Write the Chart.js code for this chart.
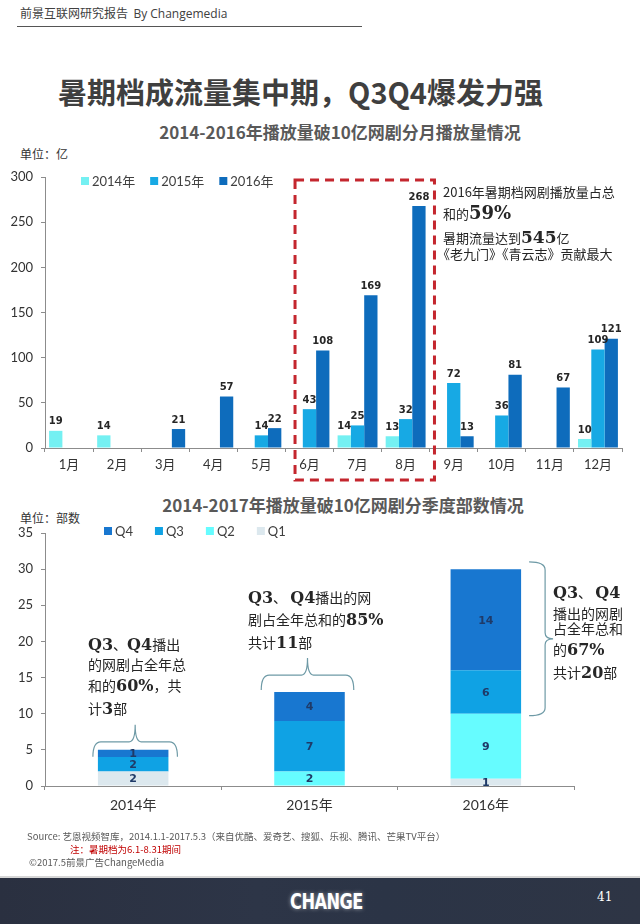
<!DOCTYPE html>
<html><head><meta charset="utf-8">
<script src="https://cdn.jsdelivr.net/npm/chart.js@4.4.1/dist/chart.umd.min.js"></script>
<style>
html,body{margin:0;padding:0;background:#fff;}
#page{position:relative;width:640px;height:924px;overflow:hidden;font-family:"Noto Sans CJK SC",sans-serif;color:#262626;}
.a{position:absolute;white-space:nowrap;line-height:1;}
.s{font-family:"DejaVu Serif",serif;font-weight:bold;}
.t13{font-size:13px;}
.t14{font-size:14px;}
canvas{position:absolute;left:0;}
</style></head>
<body><div id="page">
<div class="a" style="left:20px;top:7px;font-size:12px;color:#404040;">前景互联网研究报告 &nbsp;<span style="font-family:'Open Sans',sans-serif;">By Changemedia</span></div>
<div class="a" style="left:17px;top:26px;width:345px;height:0;border-top:1px solid #555;"></div>
<div class="a" style="left:0;width:601px;text-align:center;top:77px;font-size:29px;font-weight:bold;color:#3f3f3f;">暑期档成流量集中期，Q3Q4爆发力强</div>
<div class="a" style="left:0;width:680px;text-align:center;top:123px;font-size:17px;font-weight:bold;color:#595959;">2014-2016年播放量破10亿网剧分月播放量情况</div>
<div class="a" style="left:20px;top:148px;font-size:12px;color:#333;">单位：亿</div>

<canvas id="c1" width="640" height="340" style="top:150px;"></canvas>

<div class="a t13" style="left:443px;top:185px;">2016年暑期档网剧播放量占总</div>
<div class="a t13" style="left:443px;top:204px;">和的<span class="s" style="font-size:18px;">59%</span></div>
<div class="a t13" style="left:443px;top:229px;">暑期流量达到<span class="s" style="font-size:17px;">545</span>亿</div>
<div class="a t13" style="left:437px;top:247px;">《老九门》《青云志》贡献最大</div>

<div class="a" style="left:0;width:686px;text-align:center;top:496px;font-size:17px;font-weight:bold;color:#595959;">2014-2017年播放量破10亿网剧分季度部数情况</div>
<div class="a" style="left:20px;top:512px;font-size:12px;color:#333;">单位：部数</div>

<canvas id="c2" width="640" height="320" style="top:510px;"></canvas>

<div class="a t14" style="left:88px;top:637px;"><span class="s" style="font-size:16px;">Q3</span>、<span class="s" style="font-size:16px;">Q4</span>播出</div>
<div class="a t14" style="left:88px;top:657px;">的网剧占全年总</div>
<div class="a t14" style="left:88px;top:678px;">和的<span class="s" style="font-size:16px;">60%</span>，共</div>
<div class="a t14" style="left:88px;top:701px;">计<span class="s" style="font-size:16px;">3</span>部</div>

<div class="a t14" style="left:248px;top:590px;"><span class="s" style="font-size:16px;">Q3</span>、 <span class="s" style="font-size:16px;">Q4</span>播出的网</div>
<div class="a t14" style="left:248px;top:612px;">剧占全年总和的<span class="s" style="font-size:16px;">85%</span></div>
<div class="a t14" style="left:248px;top:635px;">共计<span class="s" style="font-size:16px;">11</span>部</div>

<div class="a t14" style="left:553px;top:585px;"><span class="s" style="font-size:16px;">Q3</span>、 <span class="s" style="font-size:16px;">Q4</span></div>
<div class="a t14" style="left:553px;top:606px;">播出的网剧</div>
<div class="a t14" style="left:553px;top:621px;">占全年总和</div>
<div class="a t14" style="left:553px;top:642px;">的<span class="s" style="font-size:16px;">67%</span></div>
<div class="a t14" style="left:553px;top:665px;">共计<span class="s" style="font-size:16px;">20</span>部</div>

<div class="a" style="left:27px;top:832px;font-size:9.5px;color:#595959;">Source: 艺恩视频智库，2014.1.1-2017.5.3（来自优酷、爱奇艺、搜狐、乐视、腾讯、芒果TV平台）</div>
<div class="a" style="left:70px;top:845px;font-size:9.5px;color:#C00000;">注：暑期档为6.1-8.31期间</div>
<div class="a" style="left:29px;top:858px;font-size:9.5px;color:#595959;">©2017.5前景广告ChangeMedia</div>

<div class="a" style="left:0;top:876px;width:640px;height:2px;background:#d6d6d6;"></div>
<div class="a" style="left:0;top:878px;width:640px;height:46px;background:linear-gradient(90deg,#2a3040,#2d3547 40%,#2b3446 60%,#2e3545);"></div>
<div class="a" style="left:290px;top:893px;width:72px;text-align:center;font-family:'DejaVu Sans Condensed','DejaVu Sans',sans-serif;font-weight:bold;font-size:18px;color:#fff;letter-spacing:-0.5px;transform:scaleY(1.2);text-shadow:0 0 4px rgba(255,255,255,0.5);">CHANGE</div>
<div class="a" style="left:597px;top:891px;font-family:'DejaVu Serif',serif;font-size:12px;color:#fff;">41</div>
</div>
<script>
const months = ['1月','2月','3月','4月','5月','6月','7月','8月','9月','10月','11月','12月'];
const seriesNames = ['2014年','2015年','2016年'];
const play2014 = [19,14,null,null,null,null,14,13,null,null,null,10];
const play2015 = [null,null,null,null,14,43,25,32,72,36,null,109];
const play2016 = [null,null,21,57,22,108,169,268,13,81,67,121];
const yTicks1 = [0,50,100,150,200,250,300];

const years = ['2014年','2015年','2016年'];
const quarterNames = ['Q1','Q2','Q3','Q4'];
const q1 = [2,0,1];
const q2 = [0,2,9];
const q3 = [2,7,6];
const q4 = [1,4,14];
const yTicks2 = [0,5,10,15,20,25,30,35];

const FONT = 'Lato, "Noto Sans CJK SC", sans-serif';

function legendPlugin(x0, yc, gap, order){
  return {id:'lg', afterDraw(chart){
    const ctx=chart.ctx; ctx.save();
    ctx.font='13px '+FONT; ctx.textBaseline='middle';
    let x=x0;
    order.forEach(i=>{
      const ds=chart.data.datasets[i];
      ctx.fillStyle=ds.backgroundColor; ctx.fillRect(x,yc-4,8,8);
      x+=11; ctx.fillStyle='#404040'; ctx.fillText(ds.label,x,yc+0.5);
      x+=ctx.measureText(ds.label).width+gap;
    });
    ctx.restore();
  }};
}

const topLabels={id:'tl', afterDatasetsDraw(chart){
  const ctx=chart.ctx; ctx.save();
  ctx.font='bold 10px "DejaVu Sans", sans-serif'; ctx.fillStyle='#262626';
  ctx.textAlign='center'; ctx.textBaseline='bottom';
  chart.data.datasets.forEach((ds,i)=>{
    chart.getDatasetMeta(i).data.forEach((b,j)=>{
      const v=ds.data[j]; if(v==null) return;
      ctx.fillText(String(v), b.x, b.y-4);
    });
  });
  ctx.restore();
}};

const redBox={id:'rb', afterDraw(chart){
  const xs=chart.scales.x, ys=chart.scales.y, ctx=chart.ctx;
  const cw=xs.getPixelForValue(1)-xs.getPixelForValue(0);
  const l=xs.getPixelForValue(5)-0.3*cw, r=xs.getPixelForValue(7)+0.6*cw;
  const t=ys.getPixelForValue(300)+3, b=chart.chartArea.bottom+32;
  ctx.save(); ctx.strokeStyle='#C4262E'; ctx.lineWidth=3; ctx.setLineDash([9,6]);
  ctx.strokeRect(l,t,r-l,b-t); ctx.restore();
}};

new Chart(document.getElementById('c1'),{
  type:'bar',
  data:{labels:months, datasets:[
    {label:seriesNames[0], data:play2014, backgroundColor:'#74F0F2'},
    {label:seriesNames[1], data:play2015, backgroundColor:'#17A9E4'},
    {label:seriesNames[2], data:play2016, backgroundColor:'#0E6CBC'}
  ]},
  options:{
    responsive:false, animation:false, devicePixelRatio:1,
    datasets:{bar:{categoryPercentage:0.83, barPercentage:1.0}},
    layout:{padding:{top:27,right:18,left:0,bottom:0}},
    plugins:{legend:{display:false}, tooltip:{enabled:false}},
    scales:{
      x:{grid:{drawOnChartArea:false,tickLength:4,color:'#8c8c8c'},border:{color:'#8c8c8c'},
         ticks:{font:{size:13,family:FONT},color:'#333',padding:5},
         afterFit(s){s.height=42;}},
      y:{min:0,max:300,afterBuildTicks(s){s.ticks=yTicks1.map(v=>({value:v}));},
         grid:{drawOnChartArea:false,tickLength:4,color:'#8c8c8c'},border:{color:'#8c8c8c'},
         ticks:{font:{size:13,family:FONT},color:'#333',padding:8},
         afterFit(s){s.width=45;}}
    }
  },
  plugins:[topLabels, redBox, legendPlugin(81,31,15,[0,1,2])]
});

const segLabels={id:'sl', afterDatasetsDraw(chart){
  const ctx=chart.ctx; ctx.save();
  ctx.font='bold 11px "DejaVu Sans", sans-serif'; ctx.fillStyle='#1F3A68';
  ctx.textAlign='center'; ctx.textBaseline='middle';
  chart.data.datasets.forEach((ds,i)=>{
    chart.getDatasetMeta(i).data.forEach((b,j)=>{
      const v=ds.data[j]; if(!v) return;
      ctx.fillText(String(v), b.x, (b.y+b.base)/2+1);
    });
  });
  ctx.restore();
}};

function hBrace(ctx,x1,x2,y0,yb,yt){
  const xm=(x1+x2)/2;
  ctx.beginPath();
  ctx.moveTo(x1,y0);
  ctx.quadraticCurveTo(x1,yb,x1+8,yb);
  ctx.lineTo(xm-6,yb);
  ctx.quadraticCurveTo(xm,yb,xm,yt);
  ctx.quadraticCurveTo(xm,yb,xm+6,yb);
  ctx.lineTo(x2-8,yb);
  ctx.quadraticCurveTo(x2,yb,x2,y0);
  ctx.stroke();
}
function vBrace(ctx,x0,xb,xt,y1,y2){
  const ym=(y1+y2)/2;
  ctx.beginPath();
  ctx.moveTo(x0,y1);
  ctx.quadraticCurveTo(xb,y1,xb,y1+8);
  ctx.lineTo(xb,ym-6);
  ctx.quadraticCurveTo(xb,ym,xt,ym);
  ctx.quadraticCurveTo(xb,ym,xb,ym+6);
  ctx.lineTo(xb,y2-8);
  ctx.quadraticCurveTo(xb,y2,x0,y2);
  ctx.stroke();
}
const braces={id:'br', afterDraw(chart){
  const ctx=chart.ctx, top=chart.getDatasetMeta(3).data, ys=chart.scales.y;
  ctx.save(); ctx.strokeStyle='#6E9AA6'; ctx.lineWidth=1.2;
  let b=top[0], l=b.x-b.width/2, r=b.x+b.width/2;
  hBrace(ctx,l-5,r+9,b.y+7,b.y-8,b.y-25);
  b=top[1]; l=b.x-b.width/2; r=b.x+b.width/2;
  hBrace(ctx,l-13,r+9,b.y-2,b.y-17,b.y-34);
  b=top[2]; r=b.x+b.width/2;
  vBrace(ctx,r+8,r+24,r+32,ys.getPixelForValue(31)+0,ys.getPixelForValue(10)+2);
  ctx.restore();
}};

new Chart(document.getElementById('c2'),{
  type:'bar',
  data:{labels:years, datasets:[
    {label:quarterNames[0], data:q1, backgroundColor:'#DCE8EE'},
    {label:quarterNames[1], data:q2, backgroundColor:'#66FCFF'},
    {label:quarterNames[2], data:q3, backgroundColor:'#0FA2E4'},
    {label:quarterNames[3], data:q4, backgroundColor:'#1877D0'}
  ]},
  options:{
    responsive:false, animation:false, devicePixelRatio:1,
    datasets:{bar:{categoryPercentage:1.0, barPercentage:0.4}},
    layout:{padding:{top:23,right:66,left:0,bottom:0}},
    plugins:{legend:{display:false}, tooltip:{enabled:false}},
    scales:{
      x:{stacked:true,grid:{drawOnChartArea:false,tickLength:4,color:'#8c8c8c'},border:{color:'#8c8c8c'},
         ticks:{font:{size:14,family:FONT},color:'#333',padding:7},
         afterFit(s){s.height=44;}},
      y:{stacked:true,min:0,max:35,afterBuildTicks(s){s.ticks=yTicks2.map(v=>({value:v}));},
         grid:{drawOnChartArea:false,tickLength:4,color:'#8c8c8c'},border:{color:'#8c8c8c'},
         ticks:{font:{size:13,family:FONT},color:'#333',padding:8},
         afterFit(s){s.width=45;}}
    }
  },
  plugins:[segLabels, braces, legendPlugin(104,21,22,[3,2,1,0])]
});
</script>
</body></html>
